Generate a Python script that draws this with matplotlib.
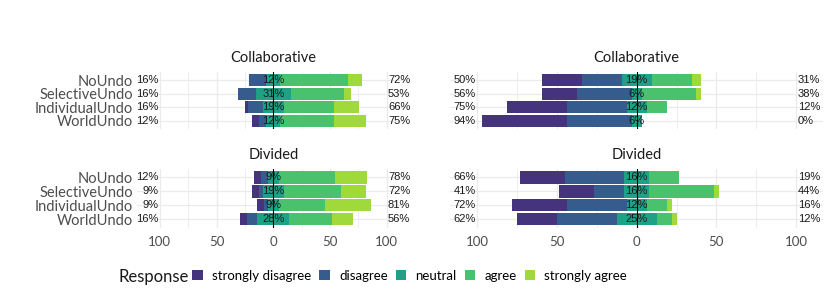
import matplotlib.pyplot as plt
from matplotlib.patches import Patch

conditions = ["NoUndo", "SelectiveUndo", "IndividualUndo", "WorldUndo"]
responses = ["strongly disagree", "disagree", "neutral", "agree", "strongly agree"]
colors = ["#46337E", "#365C8D", "#1FA187", "#4AC16D", "#9FDA3A"]

# percent per condition, columns follow `responses`
collab_left = [
    [0.0, 15.6, 12.5, 59.4, 12.5],
    [0.0, 15.6, 31.2, 46.9, 6.2],
    [3.1, 12.5, 18.8, 43.8, 21.9],
    [6.2, 6.2, 12.5, 46.9, 28.1],
]
collab_right = [
    [25.0, 25.0, 18.8, 25.0, 6.2],
    [21.9, 34.4, 6.2, 34.4, 3.1],
    [37.5, 37.5, 12.5, 12.5, 0.0],
    [53.1, 40.6, 6.2, 0.0, 0.0],
]
divided_left = [
    [6.2, 6.2, 9.4, 50.0, 28.1],
    [6.2, 3.1, 18.8, 50.0, 21.9],
    [6.2, 3.1, 9.4, 40.6, 40.6],
    [6.2, 9.4, 28.1, 37.5, 18.8],
]
divided_right = [
    [28.1, 37.5, 15.6, 18.8, 0.0],
    [21.9, 18.8, 15.6, 40.6, 3.1],
    [34.4, 37.5, 12.5, 12.5, 3.1],
    [25.0, 37.5, 25.0, 9.4, 3.1],
]

W, H = 830, 297
fig = plt.figure(figsize=(W / 100, H / 100), dpi=100)

LABEL_FONT = "Lato"
PCT_FONT = "Liberation Sans"


def add_ax(x0, x1, y0, y1):
    return fig.add_axes([x0 / W, 1 - y1 / H, (x1 - x0) / W, (y1 - y0) / H])


def pct(v):
    return "{:.0f}%".format(round(v, 1))


def likert_panel(ax, rows, title, lim, show_y, show_x):
    for i, r in enumerate(rows):
        sd, dis, neu, agr, sa = r
        half = neu / 2
        ax.barh(i, sd, left=-half - dis - sd, height=0.9, color=colors[0], zorder=2)
        ax.barh(i, dis, left=-half - dis, height=0.9, color=colors[1], zorder=2)
        ax.barh(i, neu, left=-half, height=0.9, color=colors[2], zorder=2)
        ax.barh(i, agr, left=half, height=0.9, color=colors[3], zorder=2)
        ax.barh(i, sa, left=half + agr, height=0.9, color=colors[4], zorder=2)
        ax.text(-101, i, pct(sd + dis), ha="right", va="center",
                fontsize=8, family=PCT_FONT, color="#1A1A1A", zorder=4)
        ax.text(0, i, pct(neu), ha="center", va="center",
                fontsize=8, family=PCT_FONT, color="#1A1A1A", zorder=4)
        ax.text(101, i, pct(agr + sa), ha="left", va="center",
                fontsize=8, family=PCT_FONT, color="#1A1A1A", zorder=4)

    ax.axvline(0, color="black", lw=0.8, zorder=3)
    ax.set_xlim(-lim, lim)
    ax.set_ylim(len(rows) - 0.4, -0.6)
    ax.set_xticks([-100, -50, 0, 50, 100])
    ax.set_xticks([-75, -25, 25, 75], minor=True)
    ax.set_xticklabels(["100", "50", "0", "50", "100"])
    ax.set_yticks(range(len(rows)))
    ax.set_yticklabels(conditions)
    ax.grid(which="major", color="#EBEBEB", lw=0.9, zorder=0)
    ax.grid(which="minor", axis="x", color="#EBEBEB", lw=0.6, zorder=0)
    ax.tick_params(which="both", length=0, colors="#4D4D4D")
    ax.tick_params(axis="y", pad=3, labelsize=10.5, labelleft=show_y)
    ax.tick_params(axis="x", pad=6, labelsize=9.5, labelbottom=show_x)
    for lab in ax.get_xticklabels() + ax.get_yticklabels():
        lab.set_family(LABEL_FONT)
    for s in ax.spines.values():
        s.set_visible(False)
    ax.set_title(title, fontsize=10.5, family=LABEL_FONT, color="#1A1A1A", pad=7)


ax1 = add_ax(137.1, 409.5, 72, 129)
ax2 = add_ax(450.3, 823.1, 72, 129)
ax3 = add_ax(137.1, 409.5, 169, 227.5)
ax4 = add_ax(450.3, 823.1, 169, 227.5)

likert_panel(ax1, collab_left, "Collaborative", 120, True, False)
likert_panel(ax2, collab_right, "Collaborative", 117, False, False)
likert_panel(ax3, divided_left, "Divided", 120, True, True)
likert_panel(ax4, divided_right, "Divided", 117, False, True)

handles = [Patch(facecolor=c, edgecolor="none") for c in colors]
fig.text(118 / W, 1 - 277 / H, "Response", ha="left", va="center",
         fontsize=12, family=LABEL_FONT, color="#1A1A1A")
fig.legend(handles, responses, loc="center left", bbox_to_anchor=(187 / W, 1 - 276 / H),
           ncol=5, frameon=False, handlelength=0.8, handleheight=0.8,
           handletextpad=0.7, columnspacing=0.6, borderaxespad=0,
           prop={"family": LABEL_FONT, "size": 9.5})

fig.savefig("out.png", dpi=100)
